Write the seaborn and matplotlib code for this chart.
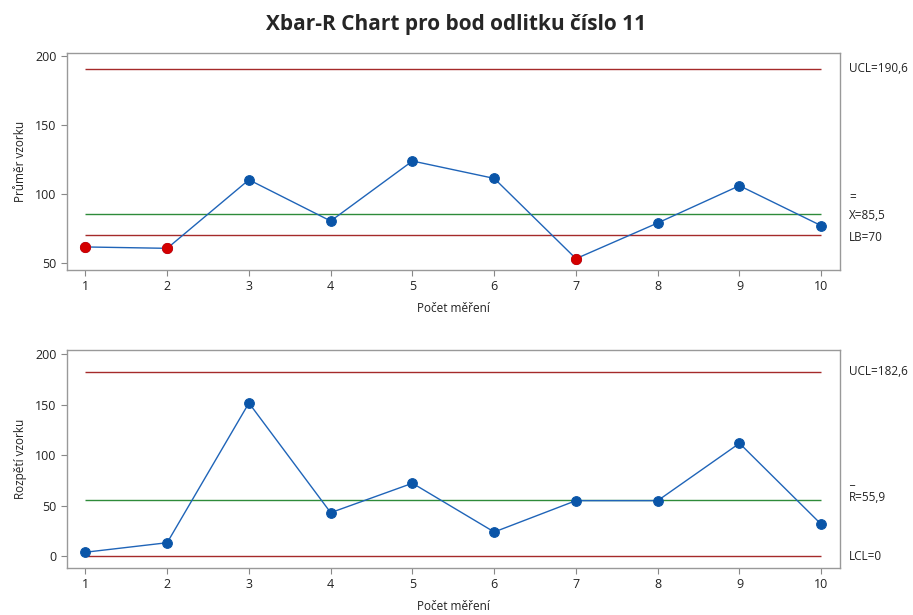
import numpy as np
import pandas as pd
import seaborn as sns
import matplotlib.pyplot as plt

# data
vzorek = [1, 2, 3, 4, 5, 6, 7, 8, 9, 10]
prumer = [61.4, 60.4, 110.1, 80.2, 123.7, 111.1, 52.9, 78.8, 105.8, 76.8]
rozpeti = [4.0, 13.4, 151.5, 43.1, 72.2, 24.0, 55.0, 55.0, 111.7, 31.6]

x_ucl, x_bar, x_lb = 190.6, 85.5, 70
r_ucl, r_bar, r_lcl = 182.6, 55.9, 0

df = pd.DataFrame({'vzorek': vzorek, 'prumer': prumer, 'rozpeti': rozpeti})

sns.set_style('white')
plt.rcParams['font.family'] = ['Open Sans', 'DejaVu Sans']

fig = plt.figure(figsize=(9.13, 6.15), dpi=100)
ax1 = fig.add_axes([0.0734, 0.561, 0.8467, 0.3528])
ax2 = fig.add_axes([0.0734, 0.0764, 0.8467, 0.3545])

blue = '#1f64b8'
dot = '#0a55a8'
red_line = '#a52a2a'
green_line = '#2e8b3a'

def draw(ax, col, ylab, lines, ylim):
    sns.lineplot(data=df, x='vzorek', y=col, ax=ax, color=blue, lw=1,
                 marker='o', markersize=7, markerfacecolor=dot,
                 markeredgecolor=dot, zorder=3)
    for val, c in lines:
        ax.hlines(val, vzorek[0], vzorek[-1], color=c, lw=1.0, zorder=2)
    ax.set_xlim(0.775, 10.23)
    ax.set_ylim(*ylim)
    ax.set_xticks(vzorek)
    ax.set_yticks([0, 50, 100, 150, 200] if ylim[0] < 0 else [50, 100, 150, 200])
    ax.set_xlabel('Počet měření', fontsize=8.5, labelpad=6, color='#222222')
    ax.set_ylabel(ylab, fontsize=8.5, labelpad=6, color='#222222')
    ax.tick_params(axis='both', labelsize=9, length=4, width=0.8,
                   color='#888888', labelcolor='#222222', direction='out',
                   bottom=True, left=True)
    for s in ax.spines.values():
        s.set_color('#999999')
        s.set_linewidth(1)

# Xbar chart
draw(ax1, 'prumer', 'Průměr vzorku',
     [(x_ucl, red_line), (x_bar, green_line), (x_lb, red_line)], (44.7, 202))
mimo = df[df['prumer'] < x_lb]
sns.scatterplot(data=mimo, x='vzorek', y='prumer', ax=ax1, color='#d40000',
                s=55, edgecolor='#d40000', zorder=4, legend=False)
ax1.set_xlabel('Počet měření', fontsize=8.5, labelpad=6, color='#222222')
ax1.set_ylabel('Průměr vzorku', fontsize=8.5, labelpad=6, color='#222222')

# R chart
draw(ax2, 'rozpeti', 'Rozpětí vzorku',
     [(r_ucl, red_line), (r_bar, green_line), (r_lcl, red_line)], (-11.6, 203.9))

# labels on the right
tx = 1.012
kw = dict(fontsize=8.5, va='center', ha='left', clip_on=False, color='#222222')
ax1.text(tx, x_ucl, 'UCL=190,6', transform=ax1.get_yaxis_transform(), **kw)
ax1.text(tx, x_bar + 12, '=', transform=ax1.get_yaxis_transform(), **kw)
ax1.text(tx, x_bar - 1, 'X=85,5', transform=ax1.get_yaxis_transform(), **kw)
ax1.text(tx, x_lb - 2, 'LB=70', transform=ax1.get_yaxis_transform(), **kw)

ax2.text(tx, r_ucl, 'UCL=182,6', transform=ax2.get_yaxis_transform(), **kw)
ax2.text(tx, r_bar + 19, '_', transform=ax2.get_yaxis_transform(), **kw)
ax2.text(tx, r_bar + 2, 'R=55,9', transform=ax2.get_yaxis_transform(), **kw)
ax2.text(tx, r_lcl, 'LCL=0', transform=ax2.get_yaxis_transform(), **kw)

fig.suptitle('Xbar-R Chart pro bod odlitku číslo 11', fontsize=15,
             fontweight='bold', x=0.5, y=0.978)

fig.savefig('out.png', dpi=100)
